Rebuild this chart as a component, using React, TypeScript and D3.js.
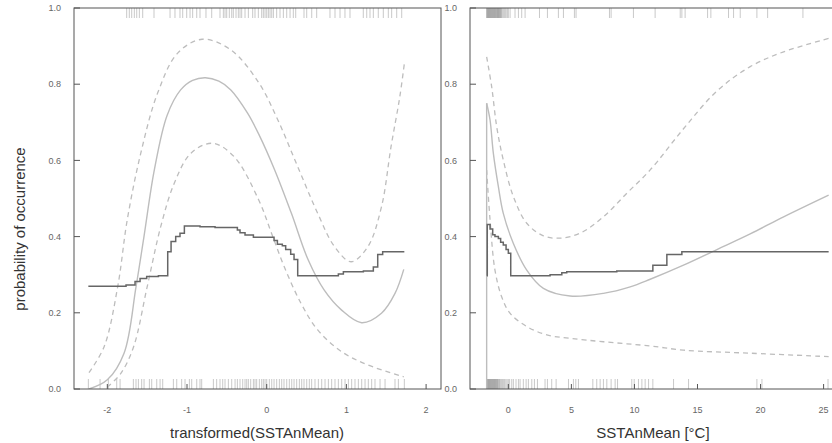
import React from "react";
import * as d3 from "d3";

// ---------- data: left panel (transformed SSTAnMean) ----------
const leftFitX = [-2.23, -2.0, -1.79, -1.64, -1.54, -1.41, -1.25, -1.08, -0.93, -0.77, -0.6, -0.45, -0.24, -0.1, 0.1, 0.31, 0.52, 0.72, 0.94, 1.19, 1.44, 1.61, 1.72];
const leftFitY = [0.0, 0.024, 0.094, 0.268, 0.4, 0.575, 0.718, 0.785, 0.81, 0.817, 0.808, 0.785, 0.724, 0.669, 0.575, 0.461, 0.339, 0.26, 0.207, 0.174, 0.199, 0.251, 0.314];
const leftUpX = [-2.23, -2.04, -1.87, -1.75, -1.58, -1.37, -1.12, -0.81, -0.45, -0.1, 0.14, 0.39, 0.64, 0.85, 1.06, 1.27, 1.44, 1.56, 1.67, 1.73];
const leftUpY = [0.043, 0.111, 0.268, 0.444, 0.619, 0.776, 0.881, 0.918, 0.89, 0.804, 0.706, 0.583, 0.461, 0.374, 0.334, 0.374, 0.478, 0.636, 0.767, 0.859];
const leftLoX = [-2.0, -1.83, -1.67, -1.5, -1.33, -1.16, -0.95, -0.68, -0.41, -0.1, 0.06, 0.22, 0.43, 0.64, 0.94, 1.27, 1.72];
const leftLoY = [0.005, 0.041, 0.111, 0.268, 0.426, 0.54, 0.619, 0.645, 0.61, 0.496, 0.409, 0.321, 0.225, 0.155, 0.098, 0.063, 0.032];
const leftStepX = [-2.238, -1.765, -1.652, -1.589, -1.506, -1.359, -1.242, -1.2, -1.142, -1.088, -1.033, -0.837, -0.648, -0.368, -0.335, -0.272, -0.167, 0.092, 0.134, 0.196, 0.238, 0.301, 0.343, 0.389, 0.899, 0.962, 1.213, 1.338, 1.393, 1.455, 1.727];
const leftStepY = [0.27, 0.273, 0.282, 0.29, 0.295, 0.297, 0.36, 0.387, 0.4, 0.409, 0.428, 0.426, 0.424, 0.417, 0.41, 0.404, 0.398, 0.39, 0.38, 0.376, 0.366, 0.354, 0.34, 0.297, 0.302, 0.308, 0.31, 0.32, 0.353, 0.36, 0.36];
const leftRugTop = [-1.757, -1.724, -1.694, -1.661, -1.631, -1.598, -1.556, -1.414, -1.213, -1.151, -1.088, -1.054, -1.004, -0.962, -0.929, -0.878, -0.837, -0.762, -0.69, -0.586, -0.544, -0.523, -0.502, -0.469, -0.439, -0.419, -0.385, -0.356, -0.335, -0.314, -0.272, -0.23, -0.176, -0.147, -0.105, -0.063, -0.042, -0.021, 0.0, 0.021, 0.042, 0.063, 0.084, 0.125, 0.167, 0.209, 0.251, 0.293, 0.334, 0.364, 0.468, 0.502, 0.565, 0.627, 0.794, 0.857, 0.92, 0.982, 1.045, 1.212, 1.255, 1.296, 1.338, 1.4, 1.463, 1.526, 1.568, 1.631, 1.694];
const leftRugBottom = [-2.238, -2.091, -1.987, -1.882, -1.84, -1.673, -1.64, -1.61, -1.569, -1.539, -1.472, -1.443, -1.38, -1.338, -1.305, -1.171, -1.129, -1.067, -1.025, -0.97, -0.941, -0.878, -0.837, -0.816, -0.669, -0.628, -0.586, -0.552, -0.523, -0.481, -0.439, -0.397, -0.368, -0.335, -0.301, -0.272, -0.251, -0.23, -0.201, -0.167, -0.147, -0.126, -0.092, -0.063, -0.042, -0.021, 0.0, 0.033, 0.063, 0.092, 0.125, 0.159, 0.188, 0.217, 0.251, 0.284, 0.314, 0.343, 0.376, 0.41, 0.439, 0.468, 0.502, 0.535, 0.564, 0.606, 0.648, 0.69, 0.732, 0.774, 0.815, 0.857, 0.899, 0.941, 0.983, 1.025, 1.066, 1.108, 1.15, 1.192, 1.234, 1.275, 1.317, 1.359, 1.422, 1.485, 1.61, 1.652, 1.727];
const leftXTicks = [-2, -1, 0, 1, 2];

// ---------- data: right panel (SSTAnMean [°C]) ----------
const rightFitX = [-1.72, -1.45, -1.19, -0.79, -0.4, 0.4, 1.46, 2.78, 4.9, 7.54, 9.66, 11.25, 13.89, 16.54, 19.18, 21.83, 25.4];
const rightFitY = [0.75, 0.706, 0.619, 0.531, 0.461, 0.382, 0.312, 0.264, 0.244, 0.251, 0.268, 0.288, 0.325, 0.366, 0.407, 0.452, 0.509];
const rightFitStartY = [0.0, 0.75];
const rightUpX = [-1.72, -1.32, -0.92, -0.4, 0.4, 1.46, 2.78, 4.1, 5.69, 7.54, 9.4, 11.25, 13.89, 16.54, 19.18, 21.83, 25.4];
const rightUpY = [0.872, 0.793, 0.688, 0.601, 0.505, 0.435, 0.402, 0.396, 0.409, 0.452, 0.514, 0.575, 0.683, 0.782, 0.846, 0.885, 0.92];
const rightLoX = [-1.72, -1.45, -1.06, -0.53, 0.13, 1.46, 3.05, 4.9, 7.54, 11.25, 13.89, 19.18, 25.4];
const rightLoY = [0.575, 0.444, 0.312, 0.242, 0.199, 0.164, 0.142, 0.133, 0.124, 0.113, 0.102, 0.094, 0.085];
const rightStepX = [-1.7, -1.67, -1.45, -1.24, -1.06, -0.79, -0.61, -0.4, -0.18, 0.0, 0.19, 3.31, 4.24, 4.63, 8.6, 11.46, 12.57, 13.76, 25.4];
const rightStepY = [0.297, 0.432, 0.42, 0.405, 0.4, 0.395, 0.385, 0.378, 0.366, 0.356, 0.297, 0.3, 0.305, 0.308, 0.31, 0.325, 0.353, 0.36, 0.36];
const rightRugTop = [-1.72, -1.69, -1.66, -1.62, -1.59, -1.56, -1.52, -1.49, -1.45, -1.42, -1.38, -1.35, -1.31, -1.28, -1.24, -1.21, -1.17, -1.13, -1.1, -1.06, -1.03, -0.99, -0.96, -0.92, -0.88, -0.85, -0.82, -0.78, -0.75, -0.71, -0.67, -0.64, -0.6, -0.55, -0.5, -0.42, -0.34, -0.26, -0.18, -0.08, 0.0, 0.14, 0.53, 0.8, 1.06, 1.33, 2.47, 3.1, 3.97, 4.37, 5.24, 5.37, 8.02, 8.15, 9.92, 11.64, 13.63, 13.76, 14.02, 15.8, 16.06, 17.46, 17.86, 18.39, 19.71, 20.56, 23.36];
const rightRugBottom = [-1.72, -1.69, -1.66, -1.62, -1.59, -1.56, -1.52, -1.49, -1.45, -1.42, -1.38, -1.35, -1.31, -1.28, -1.24, -1.21, -1.17, -1.13, -1.1, -1.06, -1.03, -0.99, -0.96, -0.92, -0.88, -0.85, -0.8, -0.75, -0.7, -0.63, -0.55, -0.47, -0.39, -0.3, -0.2, -0.1, 0.0, 0.1, 0.27, 0.4, 0.61, 0.8, 0.93, 1.19, 1.41, 1.59, 1.86, 2.07, 2.31, 2.91, 3.1, 3.44, 3.79, 4.77, 5.16, 5.35, 5.56, 6.7, 7.01, 7.28, 7.54, 7.81, 8.15, 8.47, 8.66, 9.79, 9.98, 10.32, 10.59, 10.85, 11.12, 11.46, 13.1, 14.29, 19.71, 20.11, 25.35];
const rightXTicks = [0, 5, 10, 15, 20, 25];

const yTicks = [0, 0.2, 0.4, 0.6, 0.8, 1.0];

const AXIS = "#555555";
const LABEL = "#666666";
const CURVE = "#bdbdbd";
const STEP = "#666666";
const FONT = "'Liberation Sans', Arial, sans-serif";

const TOP = 8;
const BOTTOM = 389;
const yScale = d3.scaleLinear().domain([0, 1]).range([BOTTOM, TOP]);

function zip(xs: number[], ys: number[]) {
  return xs.map((x, i) => [x, ys[i]] as [number, number]);
}

type PanelProps = {
  x: d3.ScaleLinear<number, number>;
  fit: [number, number][];
  fitLead?: [number, number][];
  up: [number, number][];
  lo: [number, number][];
  step: [number, number][];
  rugTop: number[];
  rugBottom: number[];
  xTicks: number[];
  title: string;
  labelX: number;
  clipId: string;
};

function Panel(p: PanelProps) {
  const [x0, x1] = p.x.range();
  const smooth = d3
    .line<[number, number]>()
    .x((d) => p.x(d[0]))
    .y((d) => yScale(d[1]))
    .curve(d3.curveCatmullRom.alpha(0.5));
  const straight = d3
    .line<[number, number]>()
    .x((d) => p.x(d[0]))
    .y((d) => yScale(d[1]));
  const stepLine = d3
    .line<[number, number]>()
    .x((d) => p.x(d[0]))
    .y((d) => yScale(d[1]))
    .curve(d3.curveStepAfter);
  return (
    <g>
      <defs>
        <clipPath id={p.clipId}>
          <rect x={x0} y={TOP} width={x1 - x0} height={BOTTOM - TOP} />
        </clipPath>
      </defs>
      <g clipPath={`url(#${p.clipId})`}>
        {p.rugTop.map((v, i) => (
          <line key={"t" + i} x1={p.x(v)} x2={p.x(v)} y1={TOP} y2={TOP + 10} stroke="#888" strokeOpacity={0.45} strokeWidth={1} />
        ))}
        {p.rugBottom.map((v, i) => (
          <line key={"b" + i} x1={p.x(v)} x2={p.x(v)} y1={BOTTOM} y2={BOTTOM - 10} stroke="#888" strokeOpacity={0.45} strokeWidth={1} />
        ))}
        <path d={smooth(p.up) || ""} fill="none" stroke={CURVE} strokeWidth={1.3} strokeDasharray="5,4" />
        <path d={smooth(p.lo) || ""} fill="none" stroke={CURVE} strokeWidth={1.3} strokeDasharray="5,4" />
        {p.fitLead && <path d={straight(p.fitLead) || ""} fill="none" stroke={CURVE} strokeWidth={1.4} />}
        <path d={smooth(p.fit) || ""} fill="none" stroke={CURVE} strokeWidth={1.4} />
        <path d={stepLine(p.step) || ""} fill="none" stroke={STEP} strokeWidth={1.5} />
      </g>
      <rect x={x0} y={TOP} width={x1 - x0} height={BOTTOM - TOP} fill="none" stroke={AXIS} strokeWidth={1} />
      {yTicks.map((t) => (
        <g key={"y" + t}>
          <line x1={x0} x2={x0 + 6} y1={yScale(t)} y2={yScale(t)} stroke={AXIS} />
          <text x={x0 - 13} y={yScale(t)} dy="0.35em" textAnchor="end" fontSize={9} fill={LABEL} fontFamily={FONT}>
            {t.toFixed(1)}
          </text>
        </g>
      ))}
      {p.xTicks.map((t) => (
        <g key={"x" + t}>
          <line x1={p.x(t)} x2={p.x(t)} y1={BOTTOM} y2={BOTTOM - 5} stroke={AXIS} />
          <text x={p.x(t)} y={413} textAnchor="middle" fontSize={9} fill={LABEL} fontFamily={FONT}>
            {String(t)}
          </text>
        </g>
      ))}
      <text x={p.labelX} y={438} textAnchor="middle" fontSize={15} fill="#333" fontFamily={FONT}>
        {p.title}
      </text>
    </g>
  );
}

export default function App() {
  const xL = d3.scaleLinear().domain([-2.418, 2.187]).range([74, 441]);
  const xR = d3.scaleLinear().domain([-3.04, 26.3]).range([470, 840]);
  return (
    <svg width={832} height={443} style={{ position: "absolute", left: 0, top: 0, background: "#fff" }}>
      <rect x={0} y={0} width={832} height={443} fill="#fff" />
      <Panel
        x={xL}
        fit={zip(leftFitX, leftFitY)}
        up={zip(leftUpX, leftUpY)}
        lo={zip(leftLoX, leftLoY)}
        step={zip(leftStepX, leftStepY)}
        rugTop={leftRugTop}
        rugBottom={leftRugBottom}
        xTicks={leftXTicks}
        title="transformed(SSTAnMean)"
        labelX={257}
        clipId="clipL"
      />
      <Panel
        x={xR}
        fit={zip(rightFitX, rightFitY)}
        fitLead={zip([rightFitX[0], rightFitX[0]], rightFitStartY)}
        up={zip(rightUpX, rightUpY)}
        lo={zip(rightLoX, rightLoY)}
        step={zip(rightStepX, rightStepY)}
        rugTop={rightRugTop}
        rugBottom={rightRugBottom}
        xTicks={rightXTicks}
        title="SSTAnMean [°C]"
        labelX={653}
        clipId="clipR"
      />
      <text
        transform="translate(25,229) rotate(-90)"
        textAnchor="middle"
        fontSize={15}
        fill="#333"
        fontFamily={FONT}
      >
        probability of occurrence
      </text>
    </svg>
  );
}
